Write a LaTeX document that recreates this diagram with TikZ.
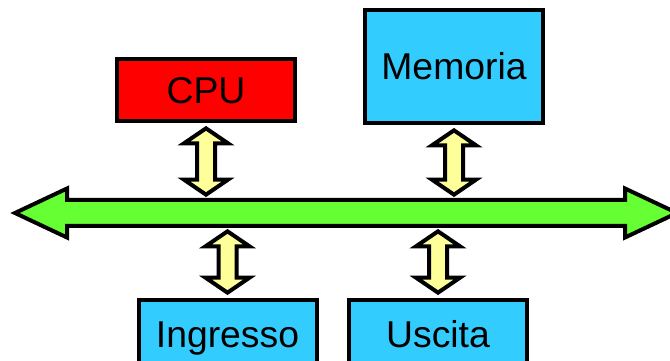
\documentclass[tikz,border=0pt]{standalone}
\usepackage{fontspec}
\setmainfont{Liberation Sans}
\usetikzlibrary{calc}

\definecolor{cpured}{RGB}{255,0,0}
\definecolor{unitblue}{RGB}{51,204,255}
\definecolor{busgreen}{RGB}{102,255,51}
\definecolor{linkyellow}{RGB}{255,255,153}

\tikzset{every picture/.style={line width=3pt},
  unit/.style={draw=black, line width=3pt, inner sep=0pt, minimum width=133.5pt,
    font=\fontsize{28}{33}\selectfont, text height=20pt, text depth=0pt},
  shaft/.style={inner sep=0pt, minimum width=415.5pt, minimum height=16.5pt},
  busarrow/.style={draw=black, fill=busgreen, line width=3pt, line join=miter},
  link/.style={draw=black, fill=linkyellow, line width=3pt, line join=miter}}

% double arrow between an upper point #1 and a lower point #2
\newcommand{\updown}[2]{%
  \draw[link] let \p1=(#1), \p2=(#2) in
    (\x1,{\y1-4pt}) -- ({\x1+16.5pt},{\y1-15.25pt}) -- ({\x1+6.75pt},{\y1-15.25pt})
    -- ({\x1+6.75pt},{\y2+15.25pt}) -- ({\x1+16.5pt},{\y2+15.25pt}) -- (\x1,{\y2+4pt})
    -- ({\x1-16.5pt},{\y2+15.25pt}) -- ({\x1-6.75pt},{\y2+15.25pt})
    -- ({\x1-6.75pt},{\y1-15.25pt}) -- ({\x1-16.5pt},{\y1-15.25pt}) -- cycle;}

\begin{document}
\begin{tikzpicture}[x=0.75pt,y=0.75pt]
\useasboundingbox (0,0) rectangle (670,360);

%Shape: units
\node[unit, fill=cpured, minimum height=46.5pt] (cpu) at (206,270) {CPU};
\node[unit, fill=unitblue, minimum height=84.75pt] (mem) at (454,293.5) {Memoria};
\node[unit, fill=unitblue, minimum height=51pt] (ing) at (227.5,26) {Ingresso};
\node[unit, fill=unitblue, minimum height=51pt] (usc) at (438,26) {Uscita};

%Shape: bus
\node[shaft] (bus) at (346,147) {};
\draw[busarrow] (bus.north west) -- (bus.north east) -- ([yshift=8.625pt]bus.north east)
  -- ([xshift=39pt]bus.east) -- ([yshift=-8.625pt]bus.south east) -- (bus.south east)
  -- (bus.south west) -- ([yshift=-8.625pt]bus.south west) -- ([xshift=-39pt]bus.west)
  -- ([yshift=8.625pt]bus.north west) -- cycle;

%Links
\updown{cpu.south}{cpu |- bus.north}
\updown{mem.south}{mem |- bus.north}
\updown{ing |- bus.south}{ing.north}
\updown{usc |- bus.south}{usc.north}

\end{tikzpicture}
\end{document}
